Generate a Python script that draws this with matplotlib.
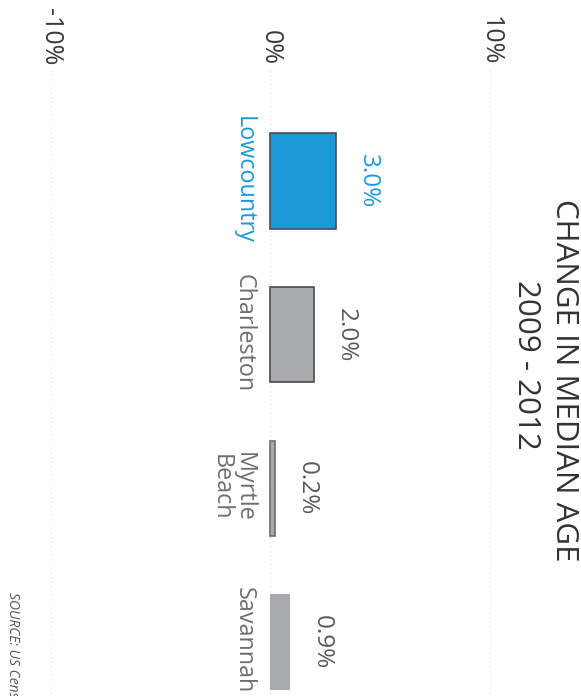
"""Change in median age 2009-2012, drawn as a sideways bar chart.

Everything is laid out turned a quarter turn clockwise: values run left to
right, regions top to bottom, and all text reads downwards.
"""
import matplotlib
matplotlib.use("Agg")
import matplotlib.pyplot as plt

plt.rcParams["font.family"] = ["Open Sans", "DejaVu Sans"]

regions = ["Lowcountry", "Charleston", "Myrtle\nBeach", "Savannah"]
change_pct = [3.0, 2.0, 0.2, 0.9]
tick_values = [-10, 0, 10]
tick_labels = ["-10%", "0%", "10%"]

title = "CHANGE IN MEDIAN AGE"
subtitle = "2009 - 2012"
source = "SOURCE: US Census Bureau"

BLUE = "#1b9ad7"
GREY_FILL = "#a8aaad"
bar_fill = [BLUE, GREY_FILL, GREY_FILL, GREY_FILL]
bar_edge = ["#4d4d4d", "#4d4d4d", "#6d6e71", "none"]
label_color = [BLUE, "#6d6e71", "#6d6e71", "#6d6e71"]
value_color = [BLUE, "#58595b", "#58595b", "#58595b"]

fig = plt.figure(figsize=(5.81, 6.96), dpi=100)
fig.patch.set_facecolor("white")
ax = fig.add_axes([0, 0, 1, 1])
ax.axis("off")

# 0% sits ~270px in, ~22px per percentage point
ax.set_xlim(-12.32, 14.15)
ax.set_ylim(3.351, -1.178)

pos = list(range(len(regions)))

# faint dotted guides at the tick values
for v in tick_values:
    ax.plot([v, v], [-0.72, 3.4], color="#dcdcdc", lw=0.8,
            linestyle=(0, (1, 3)), zorder=0)

ax.barh(pos, change_pct, height=0.62, color=bar_fill,
        edgecolor=bar_edge, linewidth=1.2, zorder=2)

for i, (name, v) in enumerate(zip(regions, change_pct)):
    ax.text(-0.68, i - 0.01, name, rotation=-90, ha="right", va="center",
            multialignment="center", fontsize=16.8, color=label_color[i],
            linespacing=0.95)
    ax.text(v + 0.9, i, f"{v:.1f}%", rotation=-90, ha="left", va="center",
            fontsize=17.5, color=value_color[i])

for v, lab in zip(tick_values, tick_labels):
    ax.text(v, -0.755, lab, rotation=-90, ha="center", va="bottom",
            fontsize=18, color="#3a3a3a")

fig.text(564 / 581, 1 - 380 / 696, title, rotation=-90, ha="center",
         va="center", fontsize=22.5, color="#333333")
fig.text(526 / 581, 1 - 365 / 696, subtitle, rotation=-90, ha="center",
         va="center", fontsize=22.5, color="#333333")
fig.text(12 / 581, 1 - 592 / 696, source, rotation=-90, ha="center",
         va="top", fontsize=10, style="italic", color="#555555")

fig.savefig("out.png", dpi=100, facecolor="white")
